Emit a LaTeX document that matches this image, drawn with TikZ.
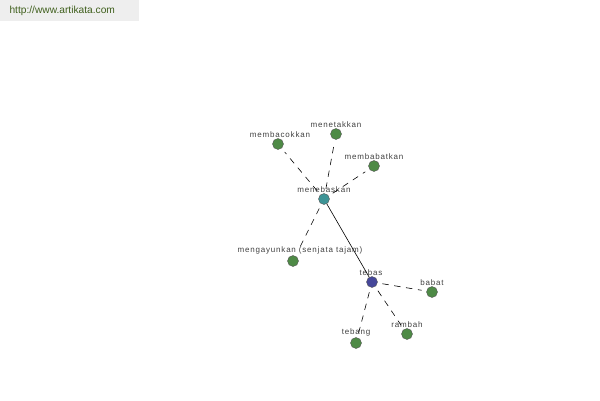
\documentclass[tikz,border=0pt]{standalone}
\usepackage{fontspec}
\setmainfont{Liberation Sans}
\newfontfamily\wordfont[LetterSpace=10]{Liberation Sans}
\definecolor{leafgreen}{HTML}{4E8A46}
\definecolor{hubteal}{HTML}{3E9496}
\definecolor{rootblue}{HTML}{45479A}
\definecolor{sitegreen}{HTML}{3F5F1C}
\definecolor{sitegray}{HTML}{EEEEEE}
\begin{document}
\begin{tikzpicture}[x=1pt, y=-1pt,
                    line cap=round,
                    word/.style={circle, draw=black!65, fill=leafgreen, minimum size=11pt, inner sep=0pt},
                    wordlabel/.style={font=\wordfont\fontsize{8}{9}\selectfont, text=black!75, inner sep=1pt},
                    link/.style={black, semithick, dash pattern=on 6pt off 6pt, shorten <=5pt, shorten >=5pt},
                    stem/.style={black, semithick}]
  \useasboundingbox (0,0) rectangle (600,400);

  % site stamp
  \fill[sitegray] (0,0) rectangle (139,21);
  \node[font=\fontsize{10.2}{12}\selectfont, text=sitegreen, anchor=west] (site) at (6,10.5) {http://www.artikata.com};

  % words
  \node[word, fill=hubteal, label={[wordlabel]above:menebaskan}] (menebaskan) at (324,199) {};
  \node[word, fill=rootblue, label={[wordlabel,xshift=-1pt]above:tebas}] (tebas) at (372,282) {};
  \node[word, label={[wordlabel,xshift=2pt]above:membacokkan}] (membacokkan) at (278,144) {};
  \node[word, label={[wordlabel]above:menetakkan}] (menetakkan) at (336,134) {};
  \node[word, label={[wordlabel]above:membabatkan}] (membabatkan) at (374,166) {};
  \node[word, label={[wordlabel,xshift=7pt]above:mengayunkan (senjata tajam)}] (mengayunkan) at (293,261) {};
  \node[word, label={[wordlabel]above:babat}] (babat) at (432,292) {};
  \node[word, label={[wordlabel]above:rambah}] (rambah) at (407,334) {};
  \node[word, label={[wordlabel]above:tebang}] (tebang) at (356,343) {};

  % links
  \draw[stem] (menebaskan) -- (tebas);
  \foreach \w in {membacokkan, menetakkan, membabatkan, mengayunkan}
    \draw[link] (menebaskan) -- (\w);
  \foreach \w in {babat, rambah, tebang}
    \draw[link] (tebas) -- (\w);

\end{tikzpicture}
\end{document}
